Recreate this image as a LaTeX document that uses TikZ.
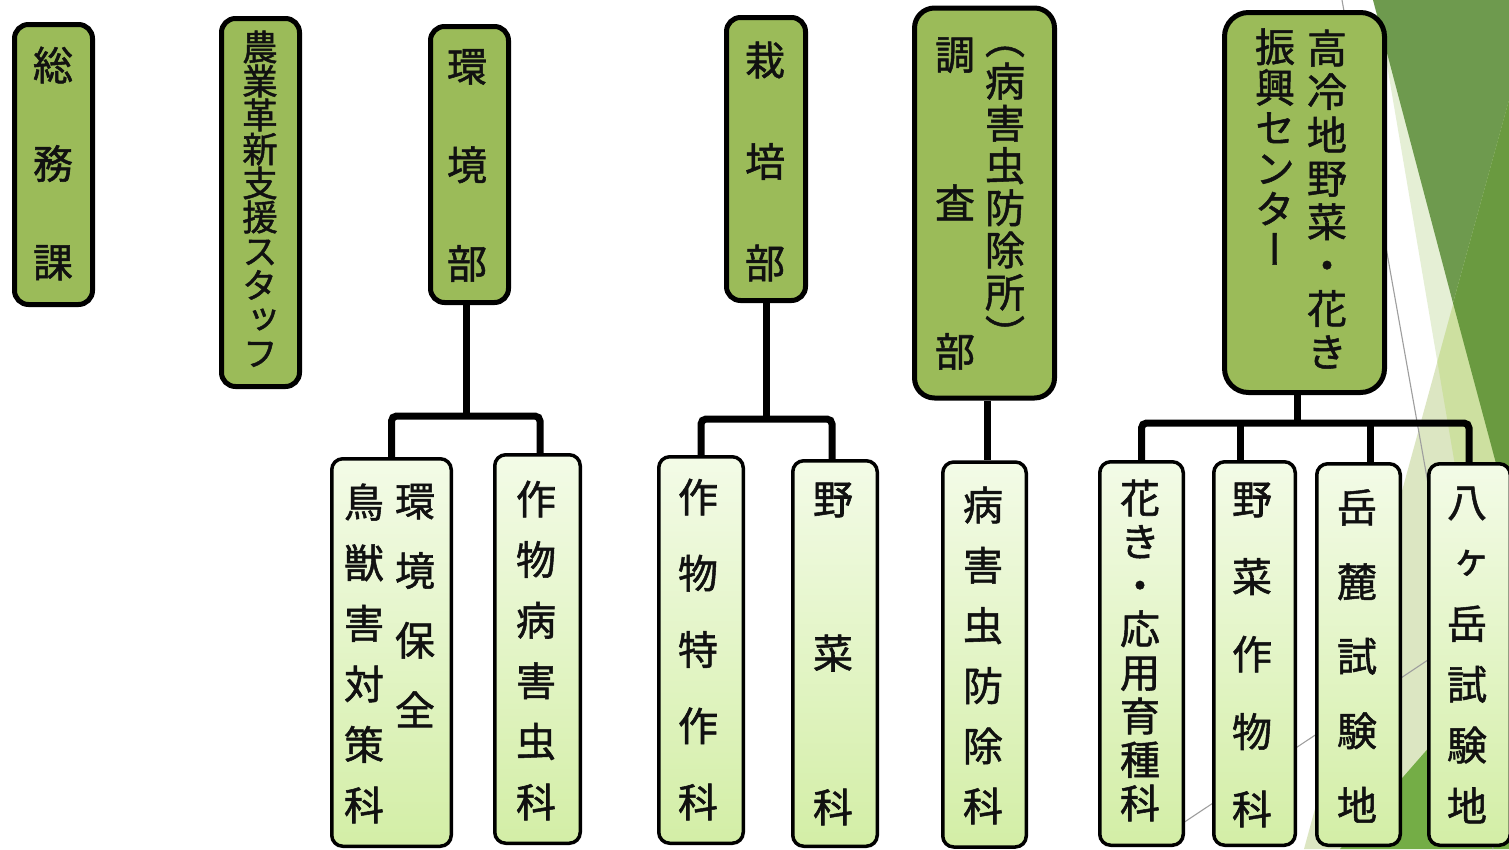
\documentclass[tikz,border=0pt]{standalone}
\usepackage{fontspec}
\newfontfamily\jp[RawFeature=+vert, FakeBold=1.3]{Noto Sans CJK JP}
\newcommand\vph{\vphantom{国}}
\definecolor{topfill}{HTML}{9BBB59}
\definecolor{gtop}{HTML}{F3FBE7}
\definecolor{gbot}{HTML}{D3EEA6}
\definecolor{bgdark}{HTML}{6E9A4E}
\definecolor{bgmed}{HTML}{6A9A40}
\definecolor{bglight}{HTML}{DCE6C2}
\definecolor{bgover}{HTML}{CDE0A0}
\definecolor{bgpale}{HTML}{E5EFD5}
\definecolor{bgbright}{HTML}{74AD46}
\definecolor{txt}{HTML}{111111}
\begin{document}
\begin{tikzpicture}[x=1pt,y=-1pt,
  topbox/.style={draw=black, line width=5pt, fill=topfill, rounded corners=14pt, inner sep=0pt},
  subbox/.style={draw=black, line width=3.5pt, top color=gtop, bottom color=gbot, rounded corners=11pt, inner sep=0pt},
  conn/.style={draw=black, line width=7pt, rounded corners=5pt},
  gline/.style={draw=black!38, line width=1.1pt},
  lbl/.style={text=txt, align=center, inner sep=0pt},
  vt/.style n args={2}{font={\jp\fontsize{#1}{#2}\selectfont}}]
\useasboundingbox (0,0) rectangle (1509,849);
\fill[white] (0,0) rectangle (1509,849);
% background facets
\fill[bgpale] (1376,0) -- (1509,0) -- (1509,784) -- cycle;
\fill[bglight] (1509,100) -- (1509,849) -- (1304,849) -- cycle;
\fill[bgover] (1509,100) -- (1437.4,361.8) -- (1509,784) -- cycle;
\fill[bgdark] (1373,0) -- (1509,0) -- (1509,100) -- (1453,303) -- cycle;
\fill[bgmed] (1509,100) -- (1453,303) -- (1509,512) -- cycle;
\fill[bgbright] (1509,656) -- (1509,849) -- (1340,849) -- cycle;
\draw[gline] (1342,0) -- (1493,849);
\draw[gline] (1150,845) -- (1509,606);
% connector junctions
\coordinate (kbar) at (466,416);
\coordinate (sbar) at (767,419);
\coordinate (hbar) at (1297,423);
% top boxes
\node[topbox, minimum width=78pt, minimum height=280pt] (soumu) at (53.5,164.5) {};
\node[topbox, minimum width=78pt, minimum height=368pt] (nogyo) at (260.5,202.5) {};
\path node[minimum width=78pt, minimum height=276pt, inner sep=0pt, outer sep=2.5pt] (kankyo) at (469.5,164.5) {}
      node[minimum width=79pt, minimum height=283pt, inner sep=0pt, outer sep=2.5pt] (saibai) at (766,159) {}
      node[minimum width=140pt, minimum height=390pt, inner sep=0pt, outer sep=2.5pt] (chosa) at (984.5,203) {}
      node[minimum width=160pt, minimum height=380pt, inner sep=0pt, outer sep=2.5pt] (kourei) at (1304.5,202.5) {};
\path node[minimum width=119.5pt, minimum height=387.5pt, inner sep=0pt, outer sep=1.75pt] (c1) at (391.5,652.5) {}
      node[minimum width=85.5pt, minimum height=388.5pt, inner sep=0pt, outer sep=1.75pt] (c2) at (537.5,649) {}
      node[minimum width=84.5pt, minimum height=386.5pt, inner sep=0pt, outer sep=1.75pt] (c3) at (701,650) {}
      node[minimum width=84.5pt, minimum height=385.5pt, inner sep=0pt, outer sep=1.75pt] (c4) at (835,653.5) {}
      node[minimum width=83.5pt, minimum height=385pt, inner sep=0pt, outer sep=1.75pt] (c5) at (984.5,654.5) {}
      node[minimum width=83.5pt, minimum height=383.5pt, inner sep=0pt, outer sep=1.75pt] (c6) at (1141.5,653.5) {}
      node[minimum width=81.5pt, minimum height=383.5pt, inner sep=0pt, outer sep=1.75pt] (c7) at (1254.5,653.5) {}
      node[minimum width=83.5pt, minimum height=381.5pt, inner sep=0pt, outer sep=1.75pt] (c8) at (1358.5,654.5) {}
      node[minimum width=81.5pt, minimum height=381.5pt, inner sep=0pt, outer sep=1.75pt] (c9) at (1469.5,654.5) {};
% connectors
\draw[conn] ([xshift=-3.5pt]kankyo.south) -- ([xshift=-3.5pt]kankyo.south |- kbar);
\draw[conn] (c1.north) -- (c1.north |- kbar) -- ([xshift=2.5pt]c2.north |- kbar) -- ([xshift=2.5pt]c2.north);
\draw[conn] (saibai.south) -- (saibai.south |- sbar);
\draw[conn] (c3.north) -- (c3.north |- sbar) -- ([xshift=-3pt]c4.north |- sbar) -- ([xshift=-3pt]c4.north);
\draw[conn] ([xshift=2.5pt]chosa.south) -- ([xshift=2.5pt]c5.north);
\draw[conn] ([xshift=-7.5pt]kourei.south) -- ([xshift=-7.5pt]kourei.south |- hbar);
\draw[conn] (c6.north) -- (c6.north |- hbar) -- ([xshift=-0.5pt]c9.north |- hbar) -- ([xshift=-0.5pt]c9.north);
\draw[conn] ([xshift=-14.5pt]c7.north) -- ([xshift=-14.5pt]c7.north |- hbar);
\draw[conn] ([xshift=11.5pt]c8.north) -- ([xshift=11.5pt]c8.north |- hbar);
% boxes drawn over connector ends
\node[topbox, minimum width=78pt, minimum height=276pt] (kankyo-b) at (kankyo) {};
\node[topbox, minimum width=79pt, minimum height=283pt] (saibai-b) at (saibai) {};
\node[topbox, rounded corners=20pt, minimum width=140pt, minimum height=390pt] (chosa-b) at (chosa) {};
\node[topbox, rounded corners=24pt, minimum width=160pt, minimum height=380pt] (kourei-b) at (kourei) {};
\node[subbox, minimum width=119.5pt, minimum height=387.5pt] (c1-b) at (c1) {};
\node[subbox, minimum width=85.5pt, minimum height=388.5pt] (c2-b) at (c2) {};
\node[subbox, minimum width=84.5pt, minimum height=386.5pt] (c3-b) at (c3) {};
\node[subbox, minimum width=84.5pt, minimum height=385.5pt] (c4-b) at (c4) {};
\node[subbox, minimum width=83.5pt, minimum height=385pt] (c5-b) at (c5) {};
\node[subbox, minimum width=83.5pt, minimum height=383.5pt] (c6-b) at (c6) {};
\node[subbox, minimum width=81.5pt, minimum height=383.5pt] (c7-b) at (c7) {};
\node[subbox, minimum width=83.5pt, minimum height=381.5pt] (c8-b) at (c8) {};
\node[subbox, minimum width=81.5pt, minimum height=381.5pt] (c9-b) at (c9) {};
% texts
\node[lbl, vt={40pt}{98.5pt}] (t-soumu) at (53,163.5) {総\\務\\課};
\node[lbl, vt={35.5pt}{34pt}] (t-nogyo) at (260,200) {農\\業\\革\\新\\支\\援\\ス\\タ\\ッ\\フ\vph};
\node[lbl, vt={40pt}{98.5pt}] (t-kankyo) at (467,165.5) {環\\境\\部};
\node[lbl, vt={40pt}{101.5pt}] (t-saibai) at (765,161.5) {栽\\培\\部};
\node[lbl, vt={40pt}{148.5pt}] (t-chosa1) at (955,203.5) {調\\査\\部};
\node[lbl, vt={40pt}{42.2pt}] (t-chosa2) at (1005,187.5) {（\vph\\病\\害\\虫\\防\\除\\所\\）\vph};
\node[lbl, vt={40pt}{43.4pt}] (t-kourei1) at (1327,200) {高\\冷\\地\\野\\菜\\・\\花\\き\vph};
\node[lbl, vt={40pt}{40.5pt}] (t-kourei2) at (1275,148) {振\\興\\セ\\ン\\タ\\ー\vph};
\node[lbl, vt={40pt}{69.7pt}] (t-c1a) at (415,605.5) {環\\境\\保\\全};
\node[lbl, vt={40pt}{60.6pt}] (t-c1b) at (364,653.5) {鳥\\獣\\害\\対\\策\\科};
\node[lbl, vt={40pt}{60.6pt}] (t-c2) at (536,650.5) {作\\物\\病\\害\\虫\\科};
\node[lbl, vt={40pt}{76.25pt}] (t-c3) at (698,649.5) {作\\物\\特\\作\\科};
\node[lbl, vt={40pt}{154pt}] (t-c4) at (833,654) {野\\菜\\科};
\node[lbl, vt={40pt}{60.2pt}] (t-c5) at (983,655.5) {病\\害\\虫\\防\\除\\科};
\node[lbl, vt={40pt}{43.6pt}] (t-c6) at (1140,650.5) {花\\き\\・\\応\\用\\育\\種\\科};
\node[lbl, vt={40pt}{77.5pt}] (t-c7) at (1252,655) {野\\菜\\作\\物\\科};
\node[lbl, vt={40pt}{74.5pt}] (t-c8) at (1357,656) {岳\\麓\\試\\験\\地};
\node[lbl, vt={40pt}{60.8pt}] (t-c9) at (1467,655) {八\\ヶ\\岳\\試\\験\\地};
\end{tikzpicture}
\end{document}
